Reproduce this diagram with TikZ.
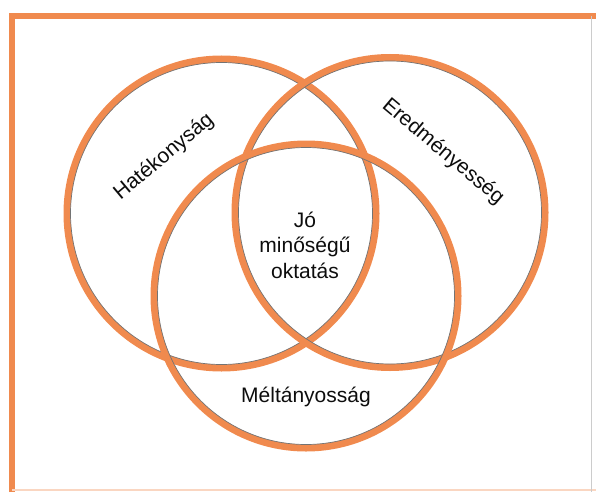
\documentclass[tikz,border=0pt]{standalone}
\usepackage{fontspec}
\setmainfont{Liberation Sans}
\definecolor{ringorange}{RGB}{240,138,78}

\begin{document}
\begin{tikzpicture}[x=1pt,y=-1pt,
	ring/.style={draw=ringorange,line width=7pt},
	ringedge/.style={draw=black!55,line width=0.7pt},
	lbl/.style={font=\fontsize{21}{25.5}\selectfont,text=black!95,align=center,inner sep=0pt}]
	
	\useasboundingbox (0,0) rectangle (596,492);
	
	% frame
	\draw[ringorange,line width=6pt] (12,492) -- (12,16) -- (596,16);
	\draw[ringorange!35,line width=2pt] (12,490) -- (596,490);
	\draw[black!20,line width=0.8pt] (591,16) -- (591,492);
	
	% circles
	\draw[ring] (221.5,213.5) circle[radius=154.5];
	\draw[ringedge] (221.5,213.5) circle[radius=151];
	\draw[ring] (390,212.5) circle[radius=155];
	\draw[ringedge] (390,212.5) circle[radius=151.5];
	\draw[ring] (306,296) circle[radius=152];
	\draw[ringedge] (306,296) circle[radius=148.5];
	
	% labels
	\node[lbl,rotate=40] (hatekonysag) at (164,157) {Hatékonyság};
	\node[lbl,rotate=-40] (eredmenyesseg) at (443,152) {Eredményesség};
	\node[lbl] (meltanyossag) at (306,397) {Méltányosság};
	\node[lbl] (jooktatas) at (305,245) {Jó\\minőségű\\oktatás};
	
\end{tikzpicture}
\end{document}
